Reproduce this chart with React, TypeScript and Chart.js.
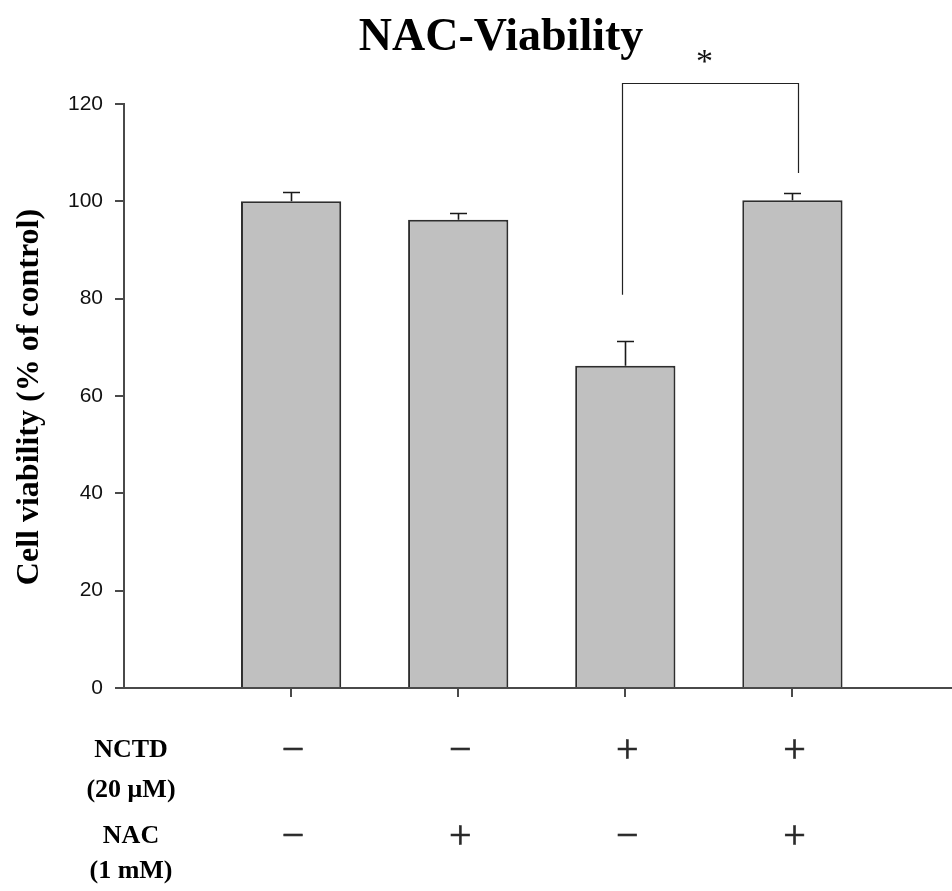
import { useEffect, useRef } from "react";
import { Chart, registerables } from "chart.js";

Chart.register(...registerables);

// Treatment groups placed on a numeric x axis (1..4)
const groups = [1, 2, 3, 4];
// Mean cell viability (% of control) and upper error (SEM)
const viability = [100.0, 96.2, 66.2, 100.2];
const sem = [2.0, 1.5, 5.2, 1.6];
// Treatment matrix shown under the axis
const nctdSigns = ["\u2212", "\u2212", "+", "+"];
const nacSigns = ["\u2212", "+", "\u2212", "+"];
// Significance bracket between groups 3 and 4 (heights in % of control)
const bracketGroups = [3, 4];
const bracketHeights = [80.8, 124.3, 105.8];
const bracketMark = "*";

const SERIF = '"Liberation Serif", "Times New Roman", serif';
const SANS = '"Liberation Sans", Arial, sans-serif';

const overlay = {
  id: "overlay",
  afterDatasetsDraw(chart: any) {
    const { ctx } = chart;
    const x = chart.scales.x;
    const y = chart.scales.y;
    ctx.save();

    // upper error bars
    ctx.strokeStyle = "#1a1a1a";
    ctx.lineWidth = 1.6;
    groups.forEach((g, i) => {
      const px = Math.round(x.getPixelForValue(g)) + 0.5;
      const top = y.getPixelForValue(viability[i]);
      const end = Math.round(y.getPixelForValue(viability[i] + sem[i])) + 0.5;
      ctx.beginPath();
      ctx.moveTo(px, top);
      ctx.lineTo(px, end);
      ctx.moveTo(px - 8.5, end);
      ctx.lineTo(px + 8.5, end);
      ctx.stroke();
    });

    // significance bracket
    const bx1 = Math.round(x.getPixelForValue(bracketGroups[0])) - 2.5;
    const bx2 = Math.round(x.getPixelForValue(bracketGroups[1])) + 6.5;
    const byL = y.getPixelForValue(bracketHeights[0]);
    const byT = Math.round(y.getPixelForValue(bracketHeights[1])) + 0.5;
    const byR = y.getPixelForValue(bracketHeights[2]);
    ctx.strokeStyle = "#222";
    ctx.lineWidth = 1.2;
    ctx.beginPath();
    ctx.moveTo(bx1, byL);
    ctx.lineTo(bx1, byT);
    ctx.lineTo(bx2, byT);
    ctx.lineTo(bx2, byR);
    ctx.stroke();

    ctx.fillStyle = "#111";
    ctx.font = `34px ${SERIF}`;
    ctx.textAlign = "center";
    ctx.textBaseline = "alphabetic";
    ctx.fillText(bracketMark, (bx1 + bx2) / 2 - 6, 72);

    ctx.restore();
  },
  afterDraw(chart: any) {
    const { ctx } = chart;
    const x = chart.scales.x;
    ctx.save();
    ctx.fillStyle = "#000";
    ctx.textAlign = "center";
    ctx.textBaseline = "alphabetic";

    // title
    ctx.font = `bold 46px ${SERIF}`;
    ctx.fillText("NAC-Viability", 501, 50);

    // y axis title
    ctx.save();
    ctx.translate(38, 397);
    ctx.rotate(-Math.PI / 2);
    ctx.font = `bold 32px ${SERIF}`;
    ctx.fillText("Cell viability (% of control)", 0, 0);
    ctx.restore();

    // treatment row labels
    ctx.font = `bold 26px ${SERIF}`;
    ctx.fillText("NCTD", 131, 757);
    ctx.fillText("(20 \u03BCM)", 131, 797);
    ctx.fillText("NAC", 131, 843);
    ctx.fillText("(1 mM)", 131, 878);

    // treatment signs
    ctx.fillStyle = "#2a2a2a";
    ctx.strokeStyle = "#2a2a2a";
    ctx.lineWidth = 0.6;
    ctx.font = `40px ${SERIF}`;
    groups.forEach((g, i) => {
      const px = x.getPixelForValue(g) + 2;
      ctx.fillText(nctdSigns[i], px, 762);
      ctx.strokeText(nctdSigns[i], px, 762);
      ctx.fillText(nacSigns[i], px, 848);
      ctx.strokeText(nacSigns[i], px, 848);
    });

    ctx.restore();
  },
};

export default function App() {
  const canvasRef = useRef<HTMLCanvasElement | null>(null);

  useEffect(() => {
    const canvas = canvasRef.current;
    if (!canvas) return;
    const chart = new Chart(canvas, {
      type: "bar",
      data: {
        datasets: [
          {
            data: groups.map((g, i) => ({ x: g, y: viability[i] })),
            backgroundColor: "#c0c0c0",
            borderColor: "#2e2e2e",
            borderWidth: 2,
            borderSkipped: "bottom",
            barPercentage: 0.6,
            categoryPercentage: 1,
          },
        ],
      },
      options: {
        responsive: false,
        animation: false,
        devicePixelRatio: 1,
        layout: { padding: { top: 104, left: 0, right: 0, bottom: 0 } },
        plugins: {
          legend: { display: false },
          tooltip: { enabled: false },
          title: { display: false },
        },
        scales: {
          x: {
            type: "linear",
            min: 0,
            max: 4.955,
            offset: false,
            afterBuildTicks: (scale: any) => {
              scale.ticks = groups.map((g) => ({ value: g }));
            },
            afterFit: (scale: any) => {
              scale.height = 203;
            },
            ticks: { display: false },
            grid: {
              offset: false,
              drawOnChartArea: false,
              drawTicks: true,
              tickLength: 9,
              color: "#4a4a4a",
              lineWidth: 2,
            },
            border: { display: true, color: "#4a4a4a", width: 2 },
          },
          y: {
            min: 0,
            max: 120,
            afterFit: (scale: any) => {
              scale.width = 124;
            },
            ticks: {
              stepSize: 20,
              padding: 12,
              color: "#111",
              font: { family: SANS, size: 21 },
            },
            grid: {
              drawOnChartArea: false,
              drawTicks: true,
              tickLength: 9,
              color: "#4a4a4a",
              lineWidth: 2,
            },
            border: { display: true, color: "#4a4a4a", width: 2 },
          },
        },
      },
      plugins: [overlay],
    } as any);
    return () => chart.destroy();
  }, []);

  return (
    <div
      style={{
        position: "absolute",
        left: 0,
        top: 0,
        width: 952,
        height: 891,
        background: "#fff",
      }}
    >
      <canvas
        ref={canvasRef}
        width={952}
        height={891}
        style={{ width: 952, height: 891, display: "block" }}
      />
    </div>
  );
}
